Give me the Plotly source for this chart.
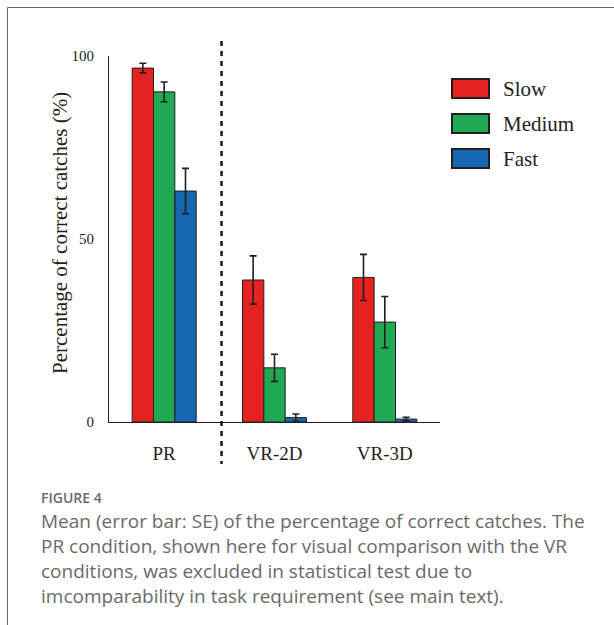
import plotly.graph_objects as go

categories = ["PR", "VR-2D", "VR-3D"]
series_names = ["Slow", "Medium", "Fast"]
slow_mean = [96.7, 38.8, 39.5]
slow_se = [1.3, 6.6, 6.3]
medium_mean = [90.2, 14.8, 27.3]
medium_se = [2.7, 3.7, 7.0]
fast_mean = [63.1, 1.2, 0.8]
fast_se = [6.2, 1.0, 0.5]
y_ticks = [0, 50, 100]
colors = ["#e5221f", "#21a852", "#1766b1"]

caption_title = "FIGURE 4"
caption_lines = [
    "Mean (error bar: SE) of the percentage of correct catches. The",
    "PR condition, shown here for visual comparison with the VR",
    "conditions, was excluded in statistical test due to",
    "imcomparability in task requirement (see main text).",
]

# pixel geometry helpers (plot area: x 109..440, y 56..422)
L, R, T, B = 109, 440, 56, 422
W, H = 614, 625
def px(x):
    return (x - L) / (R - L)
def py(y):
    return (B - y) / (B - T)

fig = go.Figure()
for name, m, e, c in zip(series_names, [slow_mean, medium_mean, fast_mean],
                         [slow_se, medium_se, fast_se], colors):
    fig.add_trace(go.Bar(
        x=categories, y=m, name=name,
        marker=dict(color=c, line=dict(color="#231f20", width=1)),
        error_y=dict(type="data", array=e, visible=True, color="#231f20",
                     thickness=1.6, width=3.5),
        showlegend=False,
    ))

serif = "Liberation Serif, Times New Roman, serif"
shapes = []
annotations = []

# dashed separator between PR and VR-2D
shapes.append(dict(type="line", xref="x", yref="paper", x0=0.52, x1=0.52,
                   y0=py(41), y1=py(464),
                   line=dict(color="#231f20", width=2.6, dash="5px,5px")))

# legend (custom boxes)
box_tops = [79, 114, 149]
for name, c, top in zip(series_names, colors, box_tops):
    shapes.append(dict(type="rect", xref="paper", yref="paper",
                       x0=px(452), x1=px(489), y0=py(top + 19), y1=py(top),
                       fillcolor=c, line=dict(color="#231f20", width=2)))
    annotations.append(dict(text=name, xref="paper", yref="paper",
                            x=px(501), y=py(top + 9.5), xanchor="left", yanchor="middle",
                            showarrow=False, font=dict(family=serif, size=21, color="#231f20")))

# outer frame
shapes.append(dict(type="rect", xref="paper", yref="paper",
                   x0=px(7.5), x1=px(640), y0=py(660), y1=py(7.5),
                   line=dict(color="#666666", width=1), fillcolor="rgba(0,0,0,0)", layer="below"))

# y-axis title
annotations.append(dict(text="Percentage of correct catches (%)", xref="paper", yref="paper",
                        x=px(60), y=py(233), textangle=-90, showarrow=False,
                        xanchor="center", yanchor="middle",
                        font=dict(family=serif, size=21, color="#231f20")))

# caption
annotations.append(dict(text=caption_title, xref="paper", yref="paper",
                        x=px(39), y=py(497), xanchor="left", yanchor="middle", showarrow=False,
                        font=dict(family="Open Sans, sans-serif", size=14, color="#6a6a6a",
                                  weight=600)))
for i, line in enumerate(caption_lines):
    annotations.append(dict(text=line, xref="paper", yref="paper",
                            x=px(39), y=py(521 + 25 * i), xanchor="left", yanchor="middle",
                            showarrow=False,
                            font=dict(family="Open Sans, sans-serif", size=19, color="#6a6a6a")))

fig.update_layout(
    width=W, height=H,
    margin=dict(l=L, r=W - R, t=T, b=H - B, pad=0),
    paper_bgcolor="white", plot_bgcolor="white",
    barmode="group", bargap=0.42, bargroupgap=0,
    shapes=shapes, annotations=annotations,
    showlegend=False,
    xaxis=dict(type="category", range=[-0.5, 2.5], showline=True, linecolor="#231f20",
               linewidth=1, showgrid=False, zeroline=False, ticks="",
               tickfont=dict(family=serif, size=19, color="#231f20"),
               ticklabelstandoff=14),
    yaxis=dict(range=[0, 100], tickvals=y_ticks, showline=True, linecolor="#231f20",
               linewidth=1, showgrid=False, zeroline=False, ticks="",
               tickfont=dict(family=serif, size=15, color="#231f20"),
               ticklabelstandoff=11),
)

fig.write_html("out.html", config={"displayModeBar": False},
               post_script="document.body.style.margin='0';document.body.style.overflow='hidden';")
